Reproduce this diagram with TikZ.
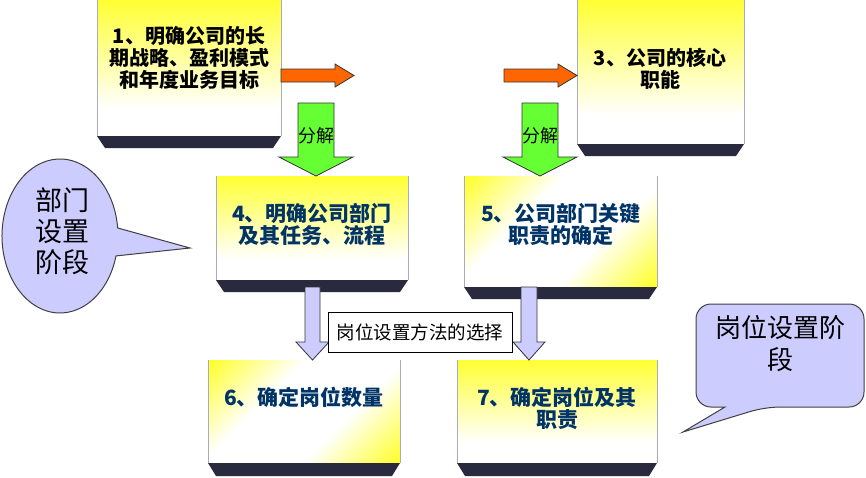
\documentclass[tikz,border=0pt]{standalone}
\usepackage{fontspec}
\usepackage{tikz}
\usetikzlibrary{calc}
\newfontfamily\cjk{Noto Sans CJK SC}

\definecolor{boxyellow}{RGB}{255,255,51}
\definecolor{bandnavy}{RGB}{41,42,62}
\definecolor{textnavy}{RGB}{0,51,102}
\definecolor{arroworange}{RGB}{255,102,0}
\definecolor{arrowgreen}{RGB}{102,255,51}
\definecolor{calloutblue}{RGB}{204,204,255}
\definecolor{sidegray}{RGB}{170,170,190}

\pgfdeclareverticalshading{boxdown}{100bp}{color(0bp)=(white); color(25bp)=(white); color(35bp)=(white); color(75bp)=(boxyellow); color(100bp)=(boxyellow)}
\pgfdeclarehorizontalshading{boxdiag}{100bp}{color(0bp)=(boxyellow); color(16bp)=(boxyellow); color(38bp)=(white); color(62bp)=(white); color(84bp)=(boxyellow); color(100bp)=(boxyellow)}

\begin{document}
\begin{tikzpicture}[x=1pt,y=-1pt,
  face/.style={shading=boxdown},
  facediag/.style={shading=boxdiag,shading angle=-45},
  band/.style={fill=bandnavy},
  side/.style={draw=sidegray,line width=1pt},
  toptext/.style={font=\cjk\bfseries\fontsize{20}{22}\selectfont,align=center,inner sep=0pt},
  deptext/.style={font=\cjk\bfseries\fontsize{21}{22}\selectfont,align=center,inner sep=0pt,text=textnavy},
  blockarrow/.style={draw=black!80,line width=0.8pt,line join=miter},
  callout/.style={draw=black!75,line width=1pt,fill=calloutblue}]

  \useasboundingbox (0,0) rectangle (866,477);

  % box 1
  \shade[face] (97,0) rectangle (281,136);
  \draw[side] (97,0) -- (97,136) (281,0) -- (281,136);
  \fill[band] (97,136) -- (281,136) -- (273,148) -- (105,148) -- cycle;
  \node[toptext] (goal) at (189,58) {1、明确公司的长\\期战略、盈利模式\\和年度业务目标};

  % box 3
  \shade[face] (577,0) rectangle (744,144);
  \draw[side] (577,0) -- (577,144) (744,0) -- (744,144);
  \fill[band] (577,144) -- (744,144) -- (736,156) -- (585,156) -- cycle;
  \node[toptext] (core) at (660,69) {3、公司的核心\\职能};

  % box 4
  \shade[face] (216,176) rectangle (408,280);
  \draw[side] (216,176) -- (216,280) (408,176) -- (408,280);
  \fill[band] (216,280) -- (408,280) -- (400,292) -- (224,292) -- cycle;
  \node[deptext] (dept) at (312,224) {4、明确公司部门\\及其任务、流程};

  % box 5
  \shade[facediag] (464,176) rectangle (657,287);
  \draw[side] (464,176) -- (464,287) (657,176) -- (657,287);
  \fill[band] (464,287) -- (657,287) -- (649,299) -- (472,299) -- cycle;
  \node[deptext] (duty) at (561,224) {5、公司部门关键\\职责的确定};

  % box 6
  \shade[facediag] (208,360) rectangle (400,463);
  \draw[side] (208,360) -- (208,463) (400,360) -- (400,463);
  \fill[band] (208,463) -- (400,463) -- (392,476) -- (216,476) -- cycle;
  \node[deptext] (count) at (304,397) {6、确定岗位数量};

  % box 7
  \shade[face] (457,360) rectangle (657,463);
  \draw[side] (457,360) -- (457,463) (657,360) -- (657,463);
  \fill[band] (457,463) -- (657,463) -- (649,476) -- (465,476) -- cycle;
  \node[deptext] (post) at (557,408) {7、确定岗位及其\\职责};

  % orange arrows
  \draw[blockarrow,fill=arroworange] (281,69) -- (335,69) -- (335,64) -- (354,75.5) -- (335,87) -- (335,82) -- (281,82) -- cycle;
  \draw[blockarrow,fill=arroworange] (504,69) -- (558,69) -- (558,64) -- (577,75.5) -- (558,87) -- (558,82) -- (504,82) -- cycle;

  % green arrows
  \draw[blockarrow,fill=arrowgreen] (298,103) -- (334,103) -- (334,157) -- (353,157) -- (316,176) -- (279,157) -- (298,157) -- cycle;
  \draw[blockarrow,fill=arrowgreen] (522,103) -- (558,103) -- (558,157) -- (577,157) -- (540,176) -- (503,157) -- (522,157) -- cycle;
  \node[font=\cjk\fontsize{18}{18}\selectfont] (split1) at (316,136) {分解};
  \node[font=\cjk\fontsize{18}{18}\selectfont] (split2) at (540,136) {分解};

  % lavender arrows
  \draw[blockarrow,fill=calloutblue] (305,287) -- (320,287) -- (320,342) -- (329,342) -- (312.5,360) -- (296,342) -- (305,342) -- cycle;
  \draw[blockarrow,fill=calloutblue] (521,287) -- (537,287) -- (537,342) -- (545,342) -- (529,360) -- (513,342) -- (521,342) -- cycle;
  \node[draw=black,line width=1pt,fill=white,minimum width=184pt,minimum height=40pt,inner sep=0pt,
    font=\cjk\fontsize{18.5}{19}\selectfont] (method) at (420,332) {岗位设置方法的选择};

  % callouts
  \draw[callout] ($(60,236)+(15:58 and 77)$) arc[start angle=15,end angle=354,x radius=58,y radius=77] -- (190,248) -- cycle;
  \node[font=\cjk\fontsize{27}{31}\selectfont,align=center,inner sep=0pt] (deptstage) at (62,231) {部门\\设置\\阶段};

  \draw[callout,rounded corners=15pt] (725,407) -- (696,407) -- (696,304) -- (864,304) -- (864,407) -- (765,407) [sharp corners] -- (683,432) -- cycle;
  \node[font=\cjk\fontsize{26}{32}\selectfont,align=center,inner sep=0pt] (poststage) at (780,344) {岗位设置阶\\段};
\end{tikzpicture}
\end{document}
